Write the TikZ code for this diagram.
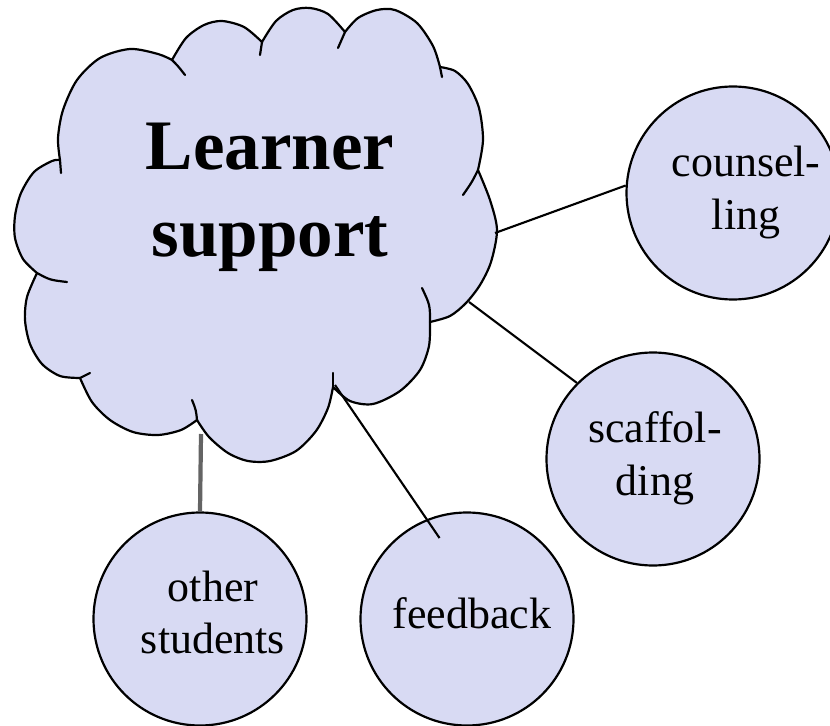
\documentclass[tikz,border=0pt]{standalone}
\usepackage{fontspec}
\setmainfont{Liberation Serif}
\usetikzlibrary{calc}
\definecolor{puff}{RGB}{216,218,243}
\definecolor{linkgray}{RGB}{100,100,100}
\tikzset{
  outline/.style={draw=black, line width=1.25pt, line join=round, line cap=round},
  bubble/.style={circle, draw=black, line width=1.25pt, fill=puff, minimum size=42.6mm, inner sep=0pt},
  smalltext/.style={font=\fontsize{25pt}{30pt}\selectfont, align=center, inner sep=0pt},
  bigtext/.style={font=\bfseries\fontsize{40.4pt}{49.4pt}\selectfont, align=center, inner sep=0pt},
  link/.style={draw=black, line width=1.2pt},
  graylink/.style={draw=linkgray, line width=2.4pt},
}
\begin{document}
\begin{tikzpicture}[x=0.2mm, y=-0.2mm]
\useasboundingbox (0,0) rectangle (830,726);
\clip (0,0) rectangle (830,726);

% cloud
\filldraw[outline, fill=puff]
  plot[smooth] coordinates {(60,160) (58,138) (63,110) (77,80) (100,58) (130,49) (158,54) (172,60)}
  -- plot[smooth] coordinates {(172,60) (186,38) (204,25) (222,21) (244,27) (262,42)}
  -- plot[smooth] coordinates {(262,42) (276,21) (293,10) (310,8) (328,14) (345,32)}
  -- plot[smooth] coordinates {(345,32) (358,18) (377,10) (395,10) (417,23) (433,46) (440,67)}
  -- plot[smooth] coordinates {(440,67) (455,71) (468,84) (479,108) (483,140) (478,170)}
  -- plot[smooth] coordinates {(478,170) (490,200) (497,230) (491,262) (480,285) (466,303) (450,316) (430,322)}
  -- plot[smooth] coordinates {(430,322) (429,346) (420,370) (400,391) (373,404) (350,401) (333,387)}
  -- plot[smooth] coordinates {(333,387) (328,408) (316,431) (296,451) (270,461) (248,461) (228,453) (209,437) (197,420)}
  -- plot[smooth] coordinates {(197,420) (181,430) (158,435) (133,432) (110,420) (92,402) (80,378)}
  -- plot[smooth] coordinates {(80,378) (60,376) (42,364) (30,344) (25,320) (27,297) (37,273)}
  -- plot[smooth] coordinates {(37,273) (23,259) (15,238) (15,216) (21,193) (34,172) (52,161) (60,160)}
  -- cycle;
% inner ticks of the cloud
\draw[outline] (60,160) -- (61,173);
\draw[outline] (172,60) .. controls (178,66) .. (185,75);
\draw[outline] (262,42) -- (260,55);
\draw[outline] (345,32) -- (338,48);
\draw[outline] (440,67) -- (442,77);
\draw[outline] (478,170) .. controls (472,182) .. (463,195);
\draw[outline] (430,322) .. controls (430,305) .. (422,288);
\draw[outline] (333,387) -- (333,373);
\draw[outline] (197,420) .. controls (196,410) .. (192,400);
\draw[outline] (80,378) -- (90,373);
\draw[outline] (37,273) .. controls (50,280) .. (67,282);

\node[bigtext] (ls) at (270,197.5) {Learner\\support};

% satellite circles
\node[bubble] (couns) at (733,193) {};
\node[bubble] (scaff) at (653,459) {};
\node[bubble] (feed) at (467,619) {};
\node[bubble] (other) at (200,619) {};

\node[smalltext] (counsT) at (746,192.5) {counsel-\\ling};
\node[smalltext] (scaffT) at (655,458) {scaffol-\\ding};
\node[smalltext, anchor=base] (feedT) at (472,628) {feedback};
\node[smalltext] (otherT) at (213,612.5) {other\\students};

% connector ends on the cloud
\coordinate (cC) at (495,233);
\coordinate (cS) at (469,302);
\coordinate (cF) at (335,385);
\coordinate (cO) at (201,434);

\draw[link] (cC) -- (couns.176);
\draw[link] (cS) -- (scaff.135);
\draw[link] (cF) -- ($(cF)!1.14!(feed.112)$);
\draw[graylink] (cO) -- (other.north);
\end{tikzpicture}
\end{document}
